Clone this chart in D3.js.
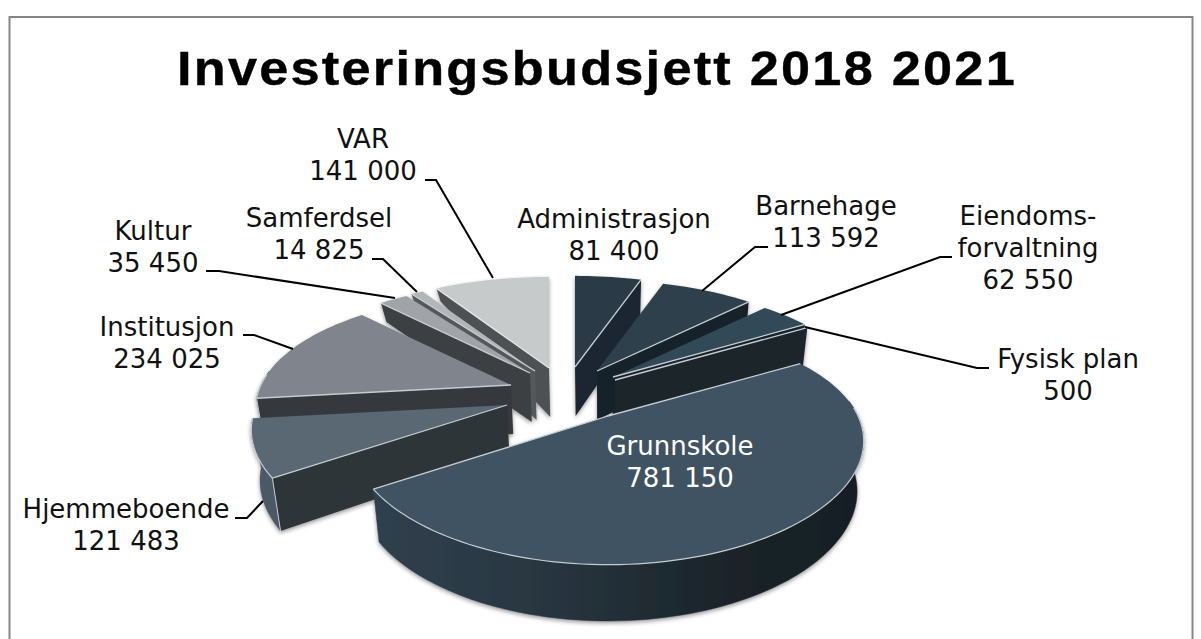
<!DOCTYPE html>
<html><head><meta charset="utf-8">
<script src="https://cdnjs.cloudflare.com/ajax/libs/d3/7.8.5/d3.min.js"></script>
<style>html,body{margin:0;padding:0;background:#fff;overflow:hidden}svg{display:block}</style>
</head><body><svg id="c" width="1201" height="639"></svg>
<script>
const titleText = "Investeringsbudsjett 2018 2021";
const categories = ["Administrasjon","Barnehage","Eiendoms-\nforvaltning","Fysisk plan","Grunnskole","Hjemmeboende","Institusjon","Kultur","Samferdsel","VAR"];
const values = [81400,113592,62550,500,781150,121483,234025,35450,14825,141000];
const topColors = ["#293b47","#2f404b","#324858","#3a4f60","#3f5262","#5a6773","#80848c","#a0a4a8","#b2b6b9","#c6cacb"];
const radialColors = ["#1a2831","#17242c","#17232b","#1a252c","#1c262d","#2f3439","#34383c","#3c3f42","#55585a","#4e5153"];
const rimColors = ["#1a2831","#17242c","#17232b","#1a252c","url(#frontRim)","#4b5865","#34383c","#3c3f42","#55585a","#4e5153"];
const apexX = [575,597,613,615,608,507,511,530,535,549];
const apexY = [367,371,377,380,416,405,385,373,371,368];
const farDepthScale = [1,1,1,1,1,1,1,0.42,0.32,0.3];
const paintOrder = [9,8,7,6,0,1,2,3,5,4];
const labelX = [614,826,1028,1068,680,126,167,153,319,363];
const labelY = [228,215,225,368,455,518,336,240,227,148];
const labelFill = ["#111","#111","#111","#111","#fff","#111","#111","#111","#111","#111"];
const leaders = [null,[[768,247],[755,247],[702,291]],[[952,257],[940,257],[781,315]],[[989,368],[977,368],[805,327]],null,
  [[235,518],[247,518],[263,501]],[[243,335],[254,335],[293,349]],[[206,271],[219,271],[395,298]],[[372,259],[383,259],[417,292]],[[425,180],[436,180],[493,278]]];

const svg = d3.select("#c");
const defs = svg.append("defs");
const g = defs.append("linearGradient").attr("id","frontRim").attr("gradientUnits","userSpaceOnUse").attr("x1",373).attr("x2",858).attr("y1",0).attr("y2",0);
[[0,"#2f404c"],[0.3,"#2a3843"],[0.6,"#1f2a31"],[0.8,"#192126"],[1,"#171f25"]].forEach(s=>g.append("stop").attr("offset",s[0]).attr("stop-color",s[1]));
const f = defs.append("filter").attr("id","soft").attr("x","-10%").attr("y","-10%").attr("width","120%").attr("height","125%");
f.append("feGaussianBlur").attr("in","SourceGraphic").attr("stdDeviation",0.45).attr("result","b");
f.append("feGaussianBlur").attr("in","SourceAlpha").attr("stdDeviation",2).attr("result","s");
f.append("feOffset").attr("in","s").attr("dy",2).attr("result","so");
f.append("feComponentTransfer").attr("in","so").attr("result","sf").append("feFuncA").attr("type","linear").attr("slope",0.4);
const m = f.append("feMerge"); m.append("feMergeNode").attr("in","sf"); m.append("feMergeNode").attr("in","b");

svg.append("rect").attr("x",9.5).attr("y",17).attr("width",1183).attr("height",660).attr("fill","#fff").attr("stroke","#868686").attr("stroke-width",2);
svg.append("text").attr("x",177).attr("y",85).attr("font-family","Liberation Sans").attr("font-weight","bold").attr("font-size",49)
  .attr("textLength",840).attr("lengthAdjust","spacingAndGlyphs").attr("letter-spacing",2.1).attr("stroke","#000").attr("stroke-width",0.4).attr("fill","#000").text(titleText);

// perspective disc
const R=250,H=113,kx=0.21,ky=0.24,D=49,kd=0.13,vanish=600,conv=0.025;
const pie = d3.pie().sort(null).value(d=>d)(values);
function topPt(i,th){const u=Math.sin(th),v=Math.cos(th);
  return [apexX[i]+R*u/(1+kx*v), apexY[i]-H*v/(1+ky*v)];}
function botPt(i,th,r){const v=r?Math.cos(th):0;const p=r?topPt(i,th):[apexX[i],apexY[i]];
  return [p[0]+(vanish-p[0])*conv, p[1]+(r?farDepthScale[i]:1)*D/(1+kd*v)];}
const line=d3.line();
function rimAngles(a,b){const n=Math.max(2,Math.ceil((b-a)/0.03));return d3.range(n+1).map(k=>a+(b-a)*k/n);}
const pieG = svg.append("g").attr("filter","url(#soft)");
paintOrder.forEach(i=>{
  const s=pie[i],a=s.startAngle,b=s.endAngle,A=[apexX[i],apexY[i]],ang=rimAngles(a,b);
  const gr=pieG.append("g");
  const mid=topPt(i,(a+b)/2);
  const midIn=[(A[0]+mid[0])/2,(A[1]+mid[1])/2];
  const faces=th=>{const P=topPt(i,th);if(Math.abs(P[0]-A[0])<8)return false;
    const yl=A[1]+(P[1]-A[1])*(midIn[0]-A[0])/(P[0]-A[0]);return midIn[1]<yl;};
  [a,b].forEach(th=>{ if(!faces(th))return;
    gr.append("path").attr("d",line([A,topPt(i,th),botPt(i,th,true),botPt(i,0,false)])+"Z").attr("fill",radialColors[i]);
  });
  const front=ang.filter(t=>Math.cos(t)<0.15);
  if(front.length>1){
    const up=front.map(t=>topPt(i,t)),dn=front.map(t=>botPt(i,t,true)).reverse();
    gr.append("path").attr("d",line(up.concat(dn))+"Z").attr("fill",rimColors[i]).attr("stroke",rimColors[i]).attr("stroke-width",0.5);
  }
  gr.append("path").attr("d",line([A].concat(ang.map(t=>topPt(i,t))))+"Z").attr("fill",topColors[i]);
  const lit=i===9?"#e4e6e6":"#c4ccd1";
  [a,b].forEach(th=>{ if(!(faces(th)||b-a>2))return;
    gr.append("path").attr("d",line([A,topPt(i,th)])).attr("fill","none").attr("stroke",lit).attr("stroke-width",1.3);
    if(faces(th)) gr.append("path").attr("d",line([topPt(i,th),botPt(i,th,true)])).attr("fill","none").attr("stroke",Math.cos(th)<0?lit:"none").attr("stroke-width",1);
  });
  const frontLit=ang.filter(t=>Math.cos(t)<0.1);
  if(frontLit.length>1) gr.append("path").attr("d",line(frontLit.map(t=>topPt(i,t)))).attr("fill","none").attr("stroke",lit).attr("stroke-width",1.2);
});

const fmt=d3.formatLocale({decimal:",",thousands:"\u00a0",grouping:[3],currency:["",""]}).format(",d");
categories.forEach((c,i)=>{
  if(leaders[i]) svg.append("path").attr("d",line(leaders[i])).attr("fill","none").attr("stroke","#000").attr("stroke-width",2);
  const lines=c.split("\n").concat([fmt(values[i])]);
  lines.forEach((t,j)=>{
    svg.append("text").attr("x",labelX[i]).attr("y",labelY[i]+j*32).attr("text-anchor","middle")
      .attr("font-family","DejaVu Sans").attr("font-size",26).attr("fill",labelFill[i]).text(t);
  });
});
</script></body></html>
